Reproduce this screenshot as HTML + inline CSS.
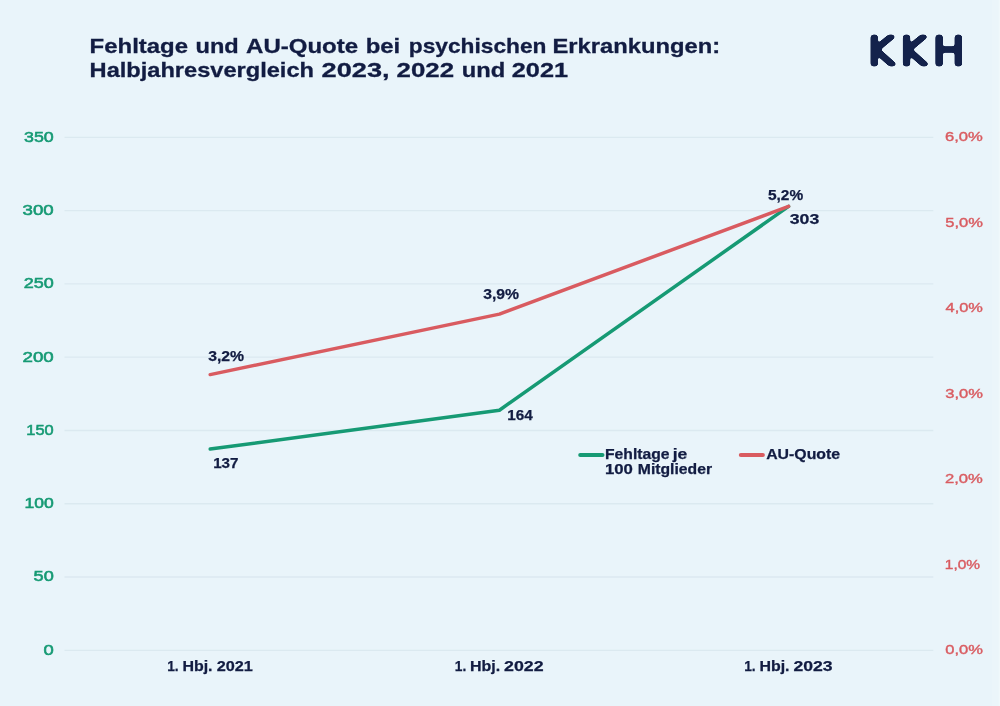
<!DOCTYPE html>
<html lang="de"><head><meta charset="utf-8"><title>KKH – Fehltage und AU-Quote</title>
<style>
html,body{margin:0;padding:0;background:#e9f4fa;}
body{width:1000px;height:706px;overflow:hidden;}
svg{display:block}
text{font-family:"Liberation Sans",sans-serif;font-weight:bold;}
.t{font-size:20.5px;fill:#121c42;stroke:#121c42;stroke-width:.3px}
.n{font-size:14.2px;fill:#121c42;stroke:#121c42;stroke-width:.25px}
.g{font-size:14.2px;font-weight:normal;fill:#169a74;stroke:#169a74;stroke-width:.55px}
.r{font-size:13.7px;font-weight:normal;fill:#d95b60;stroke:#d95b60;stroke-width:.4px}
.logo text{font-family:"DejaVu Sans Light","DejaVu Sans","Liberation Sans",sans-serif;font-weight:200;font-size:38px;fill:#14224b;stroke:#14224b;stroke-width:5px;stroke-linejoin:round;stroke-linecap:round}
</style></head><body>
<svg width="1000" height="706" viewBox="0 0 1000 706">
<rect width="1000" height="706" fill="#e9f4fa"/>
<rect x="992.3" width="7.7" height="706" fill="#ebf5fa"/>
<rect x="998.8" width="1.2" height="706" fill="#f0f8fb"/>
<g stroke="#dbe9f0" stroke-width="1.3">
<line x1="64.5" x2="933.3" y1="137.40" y2="137.40"/>
<line x1="64.5" x2="933.3" y1="210.67" y2="210.67"/>
<line x1="64.5" x2="933.3" y1="283.94" y2="283.94"/>
<line x1="64.5" x2="933.3" y1="357.21" y2="357.21"/>
<line x1="64.5" x2="933.3" y1="430.48" y2="430.48"/>
<line x1="64.5" x2="933.3" y1="503.75" y2="503.75"/>
<line x1="64.5" x2="933.3" y1="577.02" y2="577.02"/>
<line x1="64.5" x2="933.3" y1="650.29" y2="650.29"/>
</g>
<text class="t"><tspan x="89.60" y="52.8" textLength="98.39" lengthAdjust="spacingAndGlyphs">Fehltage</tspan> <tspan x="195.59" y="52.8" textLength="43.21" lengthAdjust="spacingAndGlyphs">und</tspan> <tspan x="246.02" y="52.8" textLength="112.17" lengthAdjust="spacingAndGlyphs">AU-Quote</tspan> <tspan x="365.71" y="52.8" textLength="34.50" lengthAdjust="spacingAndGlyphs">bei</tspan> <tspan x="408.78" y="52.8" textLength="137.72" lengthAdjust="spacingAndGlyphs">psychischen</tspan> <tspan x="552.52" y="52.8" textLength="167.55" lengthAdjust="spacingAndGlyphs">Erkrankungen:</tspan> <tspan x="89.62" y="76.5" textLength="224.32" lengthAdjust="spacingAndGlyphs">Halbjahresvergleich</tspan> <tspan x="321.55" y="76.5" textLength="68.06" lengthAdjust="spacingAndGlyphs">2023,</tspan> <tspan x="396.59" y="76.5" textLength="57.45" lengthAdjust="spacingAndGlyphs">2022</tspan> <tspan x="461.89" y="76.5" textLength="43.43" lengthAdjust="spacingAndGlyphs">und</tspan> <tspan x="511.81" y="76.5" textLength="56.32" lengthAdjust="spacingAndGlyphs">2021</tspan></text>
<text class="g"><tspan x="24.04" y="141.8" textLength="29.70" lengthAdjust="spacingAndGlyphs">350</tspan></text>
<text class="g"><tspan x="22.62" y="215.1" textLength="31.15" lengthAdjust="spacingAndGlyphs">300</tspan></text>
<text class="g"><tspan x="23.76" y="288.3" textLength="29.99" lengthAdjust="spacingAndGlyphs">250</tspan></text>
<text class="g"><tspan x="22.52" y="361.6" textLength="31.24" lengthAdjust="spacingAndGlyphs">200</tspan></text>
<text class="g"><tspan x="26.38" y="434.9" textLength="27.33" lengthAdjust="spacingAndGlyphs">150</tspan></text>
<text class="g"><tspan x="24.51" y="508.1" textLength="29.23" lengthAdjust="spacingAndGlyphs">100</tspan></text>
<text class="g"><tspan x="33.63" y="581.4" textLength="20.12" lengthAdjust="spacingAndGlyphs">50</tspan></text>
<text class="g"><tspan x="43.52" y="654.7" textLength="10.23" lengthAdjust="spacingAndGlyphs">0</tspan></text>
<text class="r"><tspan x="945.02" y="141.2" textLength="37.87" lengthAdjust="spacingAndGlyphs">6,0%</tspan></text>
<text class="r"><tspan x="945.28" y="226.7" textLength="37.61" lengthAdjust="spacingAndGlyphs">5,0%</tspan></text>
<text class="r"><tspan x="945.54" y="312.2" textLength="37.34" lengthAdjust="spacingAndGlyphs">4,0%</tspan></text>
<text class="r"><tspan x="945.28" y="397.6" textLength="37.61" lengthAdjust="spacingAndGlyphs">3,0%</tspan></text>
<text class="r"><tspan x="945.02" y="483.1" textLength="37.87" lengthAdjust="spacingAndGlyphs">2,0%</tspan></text>
<text class="r"><tspan x="944.83" y="568.6" textLength="35.23" lengthAdjust="spacingAndGlyphs">1,0%</tspan></text>
<text class="r"><tspan x="945.28" y="654.1" textLength="37.61" lengthAdjust="spacingAndGlyphs">0,0%</tspan></text>
<text class="n"><tspan x="208.15" y="360.7" textLength="35.97" lengthAdjust="spacingAndGlyphs">3,2%</tspan></text>
<text class="n"><tspan x="213.15" y="468.4" textLength="25.37" lengthAdjust="spacingAndGlyphs">137</tspan></text>
<text class="n"><tspan x="483.15" y="298.9" textLength="35.87" lengthAdjust="spacingAndGlyphs">3,9%</tspan></text>
<text class="n"><tspan x="507.25" y="420.0" textLength="25.46" lengthAdjust="spacingAndGlyphs">164</tspan></text>
<text class="n"><tspan x="767.96" y="199.6" textLength="35.26" lengthAdjust="spacingAndGlyphs">5,2%</tspan></text>
<text class="n"><tspan x="789.72" y="224.0" textLength="29.52" lengthAdjust="spacingAndGlyphs">303</tspan></text>
<text class="n"><tspan x="167.14" y="670.7" textLength="11.47" lengthAdjust="spacingAndGlyphs">1.</tspan> <tspan x="182.40" y="670.7" textLength="30.14" lengthAdjust="spacingAndGlyphs">Hbj.</tspan> <tspan x="216.69" y="670.7" textLength="36.11" lengthAdjust="spacingAndGlyphs">2021</tspan></text>
<text class="n"><tspan x="454.84" y="670.7" textLength="11.47" lengthAdjust="spacingAndGlyphs">1.</tspan> <tspan x="470.00" y="670.7" textLength="30.14" lengthAdjust="spacingAndGlyphs">Hbj.</tspan> <tspan x="504.05" y="670.7" textLength="39.50" lengthAdjust="spacingAndGlyphs">2022</tspan></text>
<text class="n"><tspan x="744.14" y="670.7" textLength="11.47" lengthAdjust="spacingAndGlyphs">1.</tspan> <tspan x="759.51" y="670.7" textLength="30.03" lengthAdjust="spacingAndGlyphs">Hbj.</tspan> <tspan x="793.45" y="670.7" textLength="39.19" lengthAdjust="spacingAndGlyphs">2023</tspan></text>
<text class="n"><tspan x="605.02" y="459.1" textLength="64.57" lengthAdjust="spacingAndGlyphs">Fehltage</tspan> <tspan x="672.67" y="459.1" textLength="14.56" lengthAdjust="spacingAndGlyphs">je</tspan> <tspan x="604.95" y="474.4" textLength="27.92" lengthAdjust="spacingAndGlyphs">100</tspan> <tspan x="637.82" y="474.4" textLength="74.20" lengthAdjust="spacingAndGlyphs">Mitglieder</tspan></text>
<text class="n"><tspan x="766.15" y="459.1" textLength="73.94" lengthAdjust="spacingAndGlyphs">AU-Quote</tspan></text>
<polyline points="210.2,449.1 499.4,410.2 788.6,206.4" fill="none" stroke="#169a74" stroke-width="3.5" stroke-linecap="round" stroke-linejoin="round"/>
<polyline points="210.2,374.6 499.4,314.1 788.6,206.4" fill="none" stroke="#d95b60" stroke-width="3.5" stroke-linecap="round" stroke-linejoin="round"/>
<line x1="580.2" x2="602.5" y1="455" y2="455" stroke="#169a74" stroke-width="4" stroke-linecap="round"/>
<line x1="740.8" x2="762.9" y1="455" y2="455" stroke="#d95b60" stroke-width="4" stroke-linecap="round"/>
<defs><filter id="rnd" x="-20%" y="-30%" width="140%" height="160%" color-interpolation-filters="sRGB"><feGaussianBlur in="SourceGraphic" stdDeviation="1.3"/><feComponentTransfer><feFuncA type="linear" slope="5" intercept="-2"/></feComponentTransfer></filter></defs>
<g class="logo" filter="url(#rnd)">
<text transform="scale(1.105,1)" x="783.62 812.94 844.34" y="64.1">KKH</text>
</g>
</svg></body></html>
